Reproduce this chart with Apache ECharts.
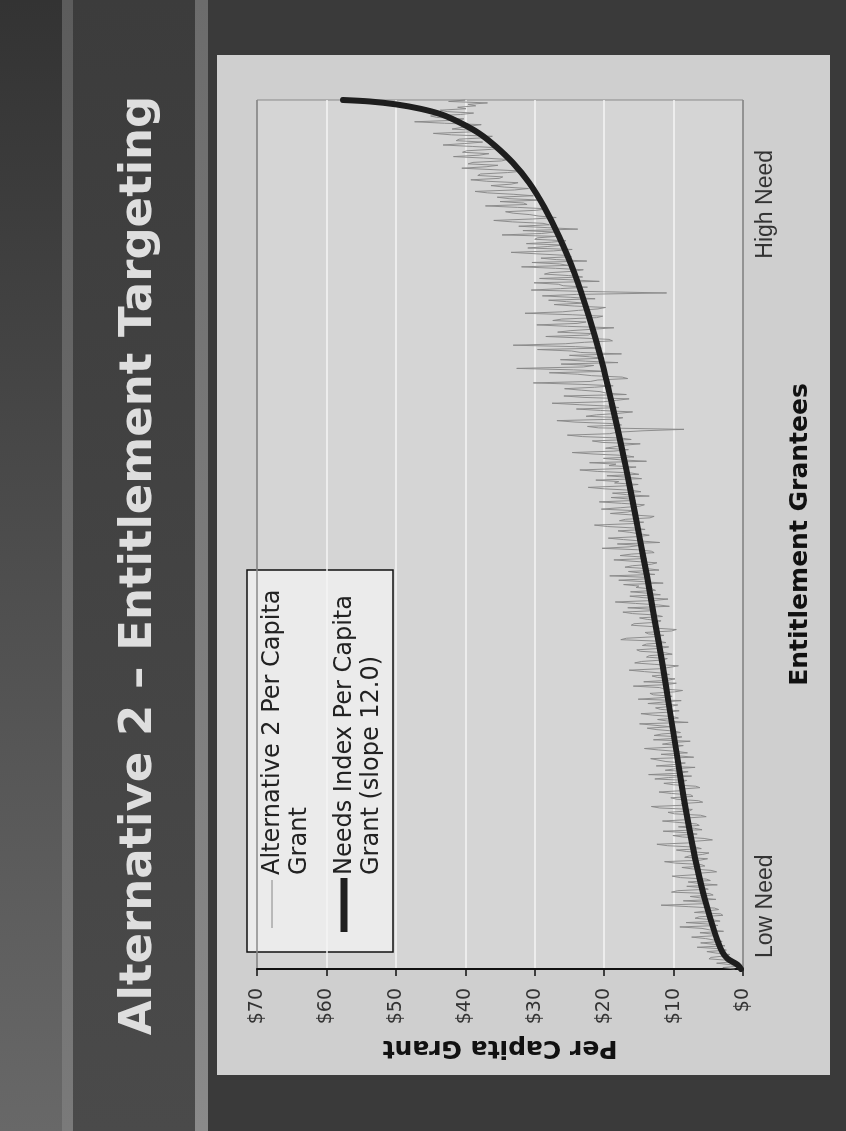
<!DOCTYPE html>
<html>
<head>
<meta charset="utf-8">
<title>Alternative 2 – Entitlement Targeting</title>
<script src="https://cdn.jsdelivr.net/npm/echarts@6/dist/echarts.min.js"></script>
<style>
  html, body { margin: 0; padding: 0; overflow: hidden; background: #3a3a3a; }
  /* The slide is laid out landscape and turned a quarter turn counter-clockwise. */
  #slide {
    position: absolute; left: 0; top: 0;
    width: 1131px; height: 846px;
    transform-origin: 0 0;
    transform: translateY(1131px) rotate(-90deg);
  }
</style>
</head>
<body>
<div id="slide"></div>
<script>
// Per capita grant of each entitlement grantee, ordered from low need to high need
const altGrant = [
  1.2, 2.9, 0.6, 1.8, 3.8, 1.4, 2.1, 4.9, 4.6, 2.7, 1.9, 3.9, 5.2, 2.4, 3.4, 6.6, 2.6, 4.2, 6.1, 3.0,
  3.1, 5.4, 7.4, 3.9, 4.2, 6.2, 2.8, 4.8, 5.9, 9.1, 3.6, 5.0, 8.2, 3.3, 4.4, 6.9, 6.3, 2.9, 3.2, 7.0,
  6.8, 3.5, 4.1, 7.9, 11.8, 5.7, 5.2, 8.6, 3.9, 6.1, 7.6, 4.3, 4.8, 10.3, 9.4, 5.0, 5.6, 8.1, 3.7, 6.4,
  7.9, 4.7, 5.3, 9.0, 10.2, 6.9, 6.4, 3.8, 4.6, 7.3, 8.8, 5.5, 6.0, 9.7, 11.3, 6.2, 5.1, 8.4, 7.7, 5.8,
  4.9, 8.1, 9.6, 6.0, 6.8, 10.9, 12.4, 7.5, 7.1, 4.4, 5.6, 8.7, 10.1, 6.6, 8.2, 11.5, 5.9, 7.0, 9.3, 6.3,
  6.7, 9.2, 11.6, 7.8, 8.4, 5.3, 6.1, 9.9, 10.8, 7.7, 7.3, 12.0, 13.2, 8.0, 8.9, 5.8, 6.4, 9.5, 10.4, 7.2,
  7.5, 10.3, 12.1, 8.6, 9.0, 6.2, 6.8, 10.0, 11.4, 8.8, 8.1, 12.7, 10.7, 7.4, 13.6, 9.1, 7.9, 11.2, 9.8, 6.9,
  12.5, 9.7, 8.3, 11.1, 10.9, 13.3, 7.1, 9.4, 11.8, 8.0, 9.5, 12.2, 14.2, 10.0, 8.6, 11.6, 10.3, 7.6, 12.9, 9.9,
  8.8, 12.8, 11.7, 9.0, 9.9, 12.4, 13.8, 10.4, 10.6, 14.9, 7.9, 11.0, 12.3, 9.3, 10.1, 13.0, 14.7, 10.8, 9.2, 11.9,
  12.6, 10.5, 9.4, 13.7, 11.5, 8.9, 15.1, 11.8, 10.2, 12.9, 13.4, 9.9, 8.7, 11.3, 12.0, 15.8, 11.1, 9.6, 14.3, 10.9,
  9.8, 12.3, 13.1, 10.6, 11.7, 14.2, 16.4, 11.9, 10.5, 9.3, 12.8, 15.6, 14.6, 11.5, 10.9, 13.9, 13.5, 10.2, 11.2, 14.8,
  15.3, 12.0, 10.7, 14.5, 13.9, 11.1, 12.2, 17.6, 16.8, 12.9, 11.4, 13.6, 14.1, 10.3, 9.6, 12.7, 13.0, 16.1, 15.7, 12.4,
  11.8, 13.8, 14.9, 11.6, 12.5, 15.9, 17.3, 13.0, 13.3, 16.6, 10.6, 12.2, 15.5, 18.4, 12.9, 10.8, 14.4, 16.3, 11.9, 13.7,
  16.2, 12.6, 13.1, 15.4, 15.0, 17.2, 11.5, 14.3, 17.9, 13.6, 14.0, 19.2, 12.7, 14.8, 16.5, 12.1, 13.8, 17.0, 15.9, 13.2,
  12.4, 15.7, 18.6, 13.9, 14.5, 17.7, 16.1, 12.8, 13.2, 15.2, 20.3, 16.4, 14.8, 18.1, 12.0, 14.6, 17.2, 19.4, 15.3, 13.5,
  13.7, 16.3, 18.0, 14.1, 15.6, 19.5, 21.4, 16.0, 14.3, 17.8, 16.9, 13.4, 12.8, 15.9, 19.1, 16.6, 15.8, 20.4, 17.6, 14.9,
  14.2, 17.5, 20.7, 15.5, 16.4, 19.0, 13.5, 16.8, 18.8, 14.7, 16.0, 20.0, 22.3, 17.1, 15.1, 18.5, 17.9, 21.2, 14.6, 16.7,
  19.6, 15.0, 16.2, 21.0, 23.5, 17.4, 15.4, 19.3, 18.3, 22.1, 13.9, 17.7, 20.1, 15.7, 17.0, 21.6, 24.6, 18.6, 16.5, 19.8,
  19.9, 17.2, 14.8, 20.3, 21.7, 16.1, 17.6, 23.1, 25.3, 19.2, 18.1, 14.4, 8.5, 20.8, 22.4, 17.5, 19.0, 24.2, 26.8, 18.4,
  17.3, 22.6, 21.1, 18.0, 15.9, 20.5, 24.0, 17.9, 19.4, 23.6, 27.5, 20.1, 18.2, 16.4, 22.9, 25.8, 16.8, 19.7, 20.6, 23.3,
  25.7, 21.4, 18.7, 23.2, 30.2, 22.0, 20.9, 16.6, 17.4, 21.8, 23.8, 27.9, 19.6, 24.4, 32.6, 23.0, 21.5, 26.2, 18.0, 22.7,
  26.3, 20.0, 22.1, 25.0, 17.5, 23.4, 24.7, 29.6, 20.4, 24.1, 33.1, 25.6, 22.8, 18.8, 19.3, 23.5, 28.4, 22.3, 21.9, 26.7,
  24.9, 21.6, 18.6, 25.3, 29.7, 23.9, 22.6, 27.4, 26.1, 21.1, 20.2, 24.6, 31.4, 26.0, 23.7, 20.9, 19.8, 24.3, 27.2, 22.9,
  25.4, 28.0, 21.3, 24.8, 28.9, 24.0, 11.0, 22.2, 30.5, 26.3, 22.4, 25.9, 26.6, 30.1, 20.7, 24.5, 29.3, 23.1, 25.1, 28.6,
  27.8, 24.3, 23.0, 27.0, 31.9, 25.2, 26.4, 30.4, 22.5, 26.9, 29.1, 24.7, 25.9, 29.8, 33.4, 27.3, 24.6, 31.0, 28.2, 25.8,
  31.2, 27.6, 25.5, 30.0, 29.6, 26.8, 34.7, 29.0, 27.1, 31.7, 23.8, 28.1, 32.3, 27.9, 28.8, 33.2, 35.9, 30.3, 26.9, 29.4,
  30.7, 33.1, 34.2, 29.7, 28.3, 32.5, 37.1, 31.1, 31.6, 35.0, 29.0, 33.7, 35.4, 30.2, 33.0, 36.8, 38.6, 32.9, 30.9, 34.4,
  36.3, 33.4, 32.4, 36.9, 39.2, 35.1, 34.6, 38.2, 37.8, 33.9, 31.7, 36.0, 40.5, 37.0, 35.3, 39.6, 38.9, 34.8, 33.8, 37.4,
  41.7, 38.0, 36.6, 40.4, 39.8, 36.2, 34.9, 39.0, 43.2, 40.1, 37.5, 41.3, 40.9, 37.2, 36.1, 42.0, 44.6, 39.3, 38.4, 41.9,
  42.1, 39.4, 37.7, 43.0, 47.3, 41.5, 40.2, 44.1, 45.0, 40.7, 38.8, 42.6, 43.6, 39.9, 41.1, 38.5, 39.6, 36.8, 42.4, 40.0
];

// Needs index per capita grant (slope 12.0): grantee rank and grant value
const needsRank = [0, 3, 7, 12, 24, 48, 72, 96, 120, 150, 180, 210, 240, 270, 300, 330, 360,
  390, 420, 450, 480, 505, 525, 542, 556, 567, 576, 583, 589, 593, 596, 598, 599];
const needsGrant = [0.3, 0.8, 2.2, 3.0, 4.0, 5.5, 6.7, 7.7, 8.6, 9.6, 10.6, 11.6, 12.7, 13.8, 15.0, 16.2, 17.5,
  18.9, 20.4, 22.2, 24.3, 26.5, 28.6, 30.8, 33.2, 35.6, 38.0, 40.6, 43.4, 46.5, 50.0, 53.8, 57.6];

const grantMax = 70;
const grantStep = 10;
const seriesNames = ['Alternative 2 Per Capita\nGrant', 'Needs Index Per Capita\nGrant (slope 12.0)'];
const rankLabels = ['Low Need', 'High Need'];

const chart = echarts.init(document.getElementById('slide'), null, { renderer: 'canvas' });

const W = 1131, H = 846;
const plot = { left: 162, right: 1031, top: 257, bottom: 743 };

function hGrad(c0, c1) {
  return new echarts.graphic.LinearGradient(0, 0, 1, 0, [
    { offset: 0, color: c0 }, { offset: 1, color: c1 }
  ]);
}

const gridLineColors = [];
for (let v = 0; v <= grantMax; v += grantStep) {
  gridLineColors.push(v === 0 || v === grantMax ? '#8a8a8a' : '#f4f4f4');
}

chart.setOption({
  animation: false,
  backgroundColor: '#3a3a3a',
  textStyle: { fontFamily: 'DejaVu Sans' },
  grid: {
    left: plot.left, right: W - plot.right, top: plot.top, bottom: H - plot.bottom,
    show: true, backgroundColor: '#d5d5d5', borderColor: '#8a8a8a', borderWidth: 1
  },
  xAxis: {
    type: 'value', min: 0, max: altGrant.length - 1,
    axisLine: { show: false }, axisTick: { show: false },
    axisLabel: { show: false }, splitLine: { show: false },
    name: 'Entitlement Grantees', nameLocation: 'middle', nameGap: 45,
    nameTextStyle: { fontFamily: 'DejaVu Sans', fontWeight: 'bold', fontSize: 25, color: '#111' }
  },
  yAxis: {
    type: 'value', min: 0, max: grantMax, interval: grantStep,
    axisLine: { show: true, lineStyle: { color: '#111', width: 2 } },
    axisTick: { show: true, length: 7, lineStyle: { color: '#111', width: 1.5 } },
    axisLabel: {
      formatter: v => '$' + v, margin: 19,
      fontFamily: 'DejaVu Sans', fontSize: 19, color: '#333'
    },
    splitLine: { show: true, lineStyle: { color: gridLineColors, width: 1.5 } },
    name: 'Per Capita Grant', nameLocation: 'middle', nameGap: 66,
    nameTextStyle: { fontFamily: 'DejaVu Sans', fontWeight: 'bold', fontSize: 25, color: '#111' }
  },
  series: [
    {
      name: seriesNames[0], type: 'line', symbol: 'none', z: 2,
      data: altGrant.map((v, i) => [i, v]),
      lineStyle: { color: '#868686', width: 0.9 }
    },
    {
      name: seriesNames[1], type: 'line', symbol: 'none', z: 3,
      smooth: 0.3,
      data: needsRank.map((r, i) => [r, needsGrant[i]]),
      lineStyle: { color: '#1e1e1e', width: 6, cap: 'round', join: 'round' }
    }
  ],
  graphic: [
    // slide background: top strip, title band and its rules, body
    { type: 'rect', z: -100, silent: true, shape: { x: 0, y: 0, width: W, height: H }, style: { fill: '#3a3a3a' } },
    { type: 'rect', z: -99, silent: true, shape: { x: 0, y: 0, width: W, height: 62 }, style: { fill: hGrad('#686868', '#333333') } },
    { type: 'rect', z: -99, silent: true, shape: { x: 0, y: 62, width: W, height: 11 }, style: { fill: hGrad('#7a7a7a', '#5c5c5c') } },
    { type: 'rect', z: -99, silent: true, shape: { x: 0, y: 73, width: W, height: 122 }, style: { fill: hGrad('#4a4a4a', '#3c3c3c') } },
    { type: 'rect', z: -99, silent: true, shape: { x: 0, y: 195, width: W, height: 13 }, style: { fill: hGrad('#8a8a8a', '#6c6c6c') } },
    // light chart panel
    { type: 'rect', z: -98, silent: true, shape: { x: 56, y: 217, width: 1020, height: 613 }, style: { fill: '#cfcfcf' } },
    // slide title
    {
      type: 'text', z: 10, silent: true, x: W / 2, y: 139,
      style: {
        text: 'Alternative 2 – Entitlement Targeting',
        fontFamily: 'DejaVu Sans', fontWeight: 'bold', fontSize: 45,
        fill: '#dedede', align: 'center', verticalAlign: 'middle'
      }
    },
    // need labels under the grantee axis
    {
      type: 'text', z: 10, silent: true, x: 173, y: 766,
      style: { text: rankLabels[0], fontFamily: 'Liberation Sans', fontSize: 23, fill: '#333', align: 'left', verticalAlign: 'middle' }
    },
    {
      type: 'text', z: 10, silent: true, x: 981, y: 766,
      style: { text: rankLabels[1], fontFamily: 'Liberation Sans', fontSize: 23, fill: '#333', align: 'right', verticalAlign: 'middle' }
    },
    // legend
    {
      type: 'group', z: 50,
      children: [
        { type: 'rect', shape: { x: 179, y: 247, width: 382, height: 146 }, style: { fill: '#ebebeb', stroke: '#111', lineWidth: 1.5 } },
        { type: 'line', shape: { x1: 203, y1: 272, x2: 251, y2: 272 }, style: { stroke: '#868686', lineWidth: 1 } },
        { type: 'line', shape: { x1: 199, y1: 344, x2: 253, y2: 344 }, style: { stroke: '#1e1e1e', lineWidth: 7 } },
        {
          type: 'text', x: 256, y: 286,
          style: { text: seriesNames[0], fontFamily: 'DejaVu Sans', fontSize: 24, lineHeight: 27, fill: '#222', align: 'left', verticalAlign: 'middle' }
        },
        {
          type: 'text', x: 256, y: 358,
          style: { text: seriesNames[1], fontFamily: 'DejaVu Sans', fontSize: 24, lineHeight: 27, fill: '#222', align: 'left', verticalAlign: 'middle' }
        }
      ]
    }
  ]
});
</script>
</body>
</html>
